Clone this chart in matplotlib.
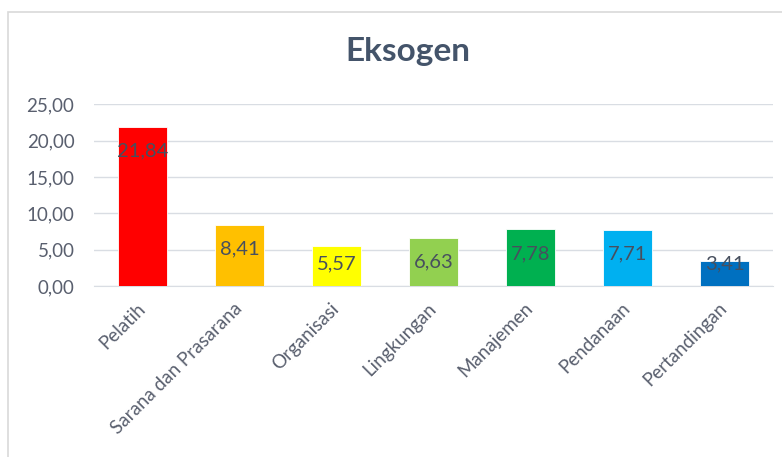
import matplotlib
matplotlib.use("Agg")
import matplotlib.pyplot as plt
from matplotlib.patches import Rectangle

plt.rcParams['font.family'] = ['Lato', 'DejaVu Sans']

categories = ['Pelatih', 'Sarana dan Prasarana', 'Organisasi', 'Lingkungan',
              'Manajemen', 'Pendanaan', 'Pertandingan']
values = [21.84, 8.41, 5.57, 6.63, 7.78, 7.71, 3.41]
colors = ['#FF0000', '#FFC000', '#FFFF00', '#92D050', '#00B050', '#00B0F0', '#0070C0']
yticks = [0, 5, 10, 15, 20, 25]

text_col = '#595f6e'
label_col = '#474f5e'
grid_col = '#d9dde3'

fig = plt.figure(figsize=(7.82, 4.57), dpi=100)
# chart frame
fig.patches.append(Rectangle((8 / 782, -0.1), 1.2, 1 - 12 / 457 + 0.1,
                             transform=fig.transFigure, fill=False,
                             edgecolor='#d9d9d9', linewidth=1.2))

ax = fig.add_axes([0.120, 0.374, 0.8685, 0.398])
x = range(len(categories))
ax.bar(x, values, width=0.5, color=colors, edgecolor='white', linewidth=0.6, zorder=3)

for i, v in enumerate(values):
    ypos = max(v - 3.3, 3.0)
    ax.text(i, ypos, f'{v:.2f}'.replace('.', ','), ha='center', va='center',
            fontsize=14.5, color=label_col, zorder=4)

ax.set_xlim(-0.5, len(categories) - 0.5)
ax.set_ylim(0, 25)
ax.set_yticks(yticks)
ax.set_yticklabels([f'{t:.2f}'.replace('.', ',') for t in yticks])
ax.set_xticks(list(x))
ax.set_xticklabels(categories, rotation=45, ha='right', va='center',
                   rotation_mode='anchor')
ax.tick_params(axis='y', length=0, pad=14, labelsize=13.5, labelcolor=text_col)
ax.tick_params(axis='x', length=0, pad=14, labelsize=13.5, labelcolor=text_col)

ax.grid(axis='y', color=grid_col, linewidth=1, zorder=0)
for s in ['left', 'right', 'top']:
    ax.spines[s].set_visible(False)
ax.spines['bottom'].set_color(grid_col)

fig.text(0.522, 0.888, 'Eksogen', ha='center', va='center', fontsize=24,
         fontweight='bold', color='#44546A')

fig.savefig('out.png', dpi=100)
